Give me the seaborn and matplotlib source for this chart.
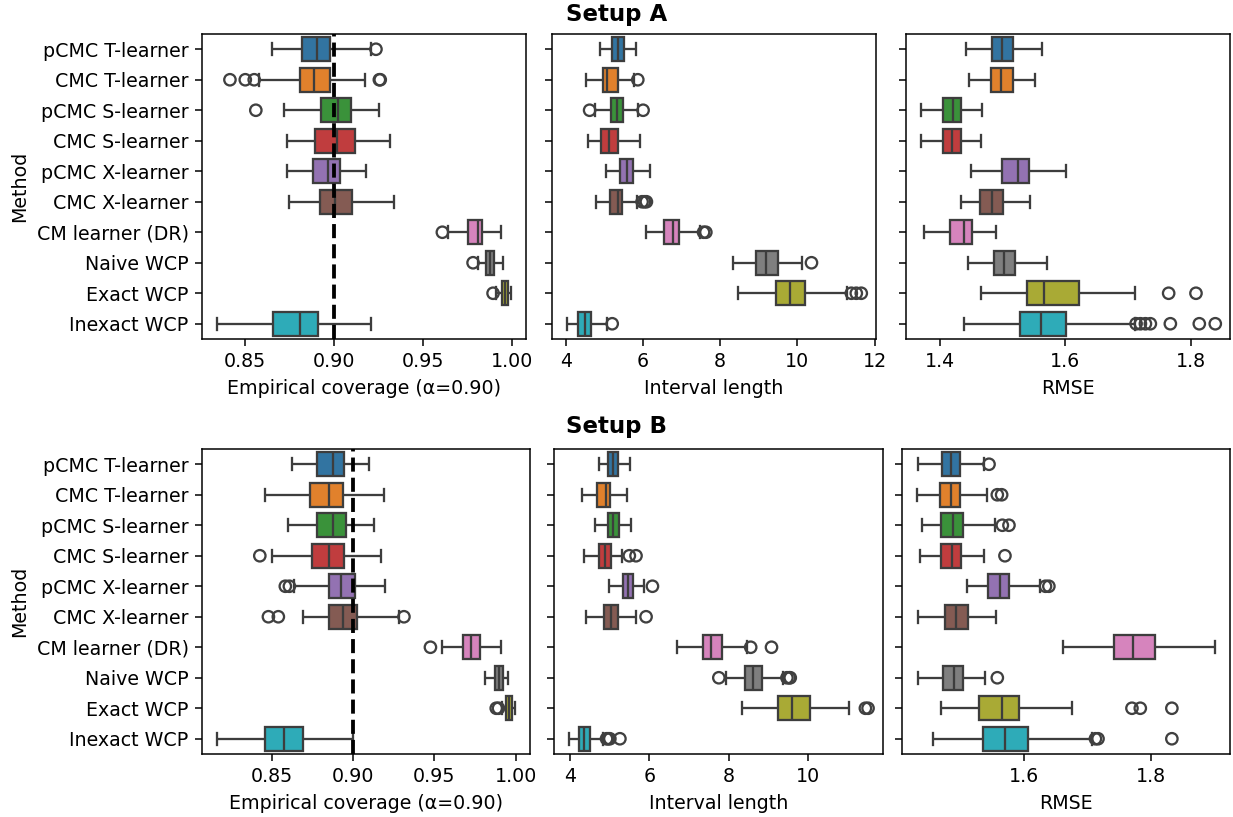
import pandas as pd
import matplotlib.pyplot as plt
import seaborn as sns
import numpy as np

methods = ["pCMC T-learner", "CMC T-learner", "pCMC S-learner", "CMC S-learner",
           "pCMC X-learner", "CMC X-learner", "CM learner (DR)", "Naive WCP",
           "Exact WCP", "Inexact WCP"]

# five-number summaries (whisker low, q1, median, q3, whisker high)
a_cov = [(0.8651, 0.8822, 0.8903, 0.8978, 0.9208),
         (0.8580, 0.8810, 0.8889, 0.8976, 0.9177),
         (0.8721, 0.8926, 0.9026, 0.9098, 0.9251),
         (0.8740, 0.8894, 0.9019, 0.9117, 0.9316),
         (0.8736, 0.8885, 0.8970, 0.9037, 0.9180),
         (0.8749, 0.8922, 0.9009, 0.9104, 0.9338),
         (0.9641, 0.9753, 0.9808, 0.9832, 0.9938),
         (0.9808, 0.9855, 0.9873, 0.9896, 0.9948),
         (0.9910, 0.9942, 0.9959, 0.9975, 0.9994),
         (0.8344, 0.8662, 0.8809, 0.8911, 0.9208)]
a_cov_out = [[0.9236], [0.8418, 0.8504, 0.8554, 0.9255, 0.9260], [0.8563], [], [], [],
             [0.9608], [0.9780], [0.9892], []]

a_len = [(4.877, 5.204, 5.351, 5.505, 5.832),
         (4.516, 4.972, 5.075, 5.351, 5.763),
         (4.757, 5.161, 5.333, 5.480, 5.867),
         (4.585, 4.912, 5.118, 5.351, 5.935),
         (5.049, 5.402, 5.591, 5.738, 6.194),
         (4.783, 5.153, 5.351, 5.454, 5.849),
         (6.073, 6.538, 6.770, 6.925, 7.467),
         (8.344, 8.920, 9.178, 9.505, 10.108),
         (8.473, 9.437, 9.806, 10.211, 11.286),
         (4.026, 4.318, 4.490, 4.662, 5.075)]
a_len_out = [[], [5.867], [4.619, 6.004], [], [], [5.978, 6.039, 6.090],
             [7.570, 7.630], [10.366], [11.398, 11.527, 11.656], [5.204]]

a_rmse = [(1.4414, 1.4829, 1.4993, 1.5163, 1.5631),
          (1.4462, 1.4818, 1.4972, 1.5158, 1.5514),
          (1.3692, 1.4042, 1.4207, 1.4340, 1.4664),
          (1.3703, 1.4053, 1.4197, 1.4335, 1.4659),
          (1.4494, 1.4993, 1.5243, 1.5418, 1.6003),
          (1.4329, 1.4637, 1.4829, 1.4999, 1.5440),
          (1.3740, 1.4165, 1.4377, 1.4510, 1.4898),
          (1.4452, 1.4855, 1.5020, 1.5201, 1.5700),
          (1.4653, 1.5381, 1.5663, 1.6226, 1.7108),
          (1.4377, 1.5270, 1.5615, 1.6008, 1.7108)]
a_rmse_out = [[], [], [], [], [], [], [], [],
              [1.7649, 1.8085],
              [1.7129, 1.7198, 1.7278, 1.7357, 1.7676, 1.8138, 1.8393]]

b_cov = [(0.8624, 0.8779, 0.8877, 0.8945, 0.9098),
         (0.8458, 0.8734, 0.8851, 0.8941, 0.9190),
         (0.8601, 0.8775, 0.8875, 0.8959, 0.9129),
         (0.8501, 0.8749, 0.8849, 0.8947, 0.9170),
         (0.8638, 0.8853, 0.8924, 0.9010, 0.9196),
         (0.8693, 0.8851, 0.8939, 0.9022, 0.9282),
         (0.9548, 0.9676, 0.9726, 0.9779, 0.9912),
         (0.9813, 0.9875, 0.9895, 0.9920, 0.9956),
         (0.9916, 0.9942, 0.9961, 0.9975, 0.9997),
         (0.8162, 0.8456, 0.8577, 0.8693, 0.9000)]
b_cov_out = [[], [], [], [0.8426], [0.8583, 0.8608], [0.8479, 0.8540, 0.9313],
             [0.9476], [], [0.9881, 0.9895], []]

b_len = [(4.720, 4.958, 5.068, 5.195, 5.508),
         (4.297, 4.686, 4.898, 5.008, 5.432),
         (4.619, 4.958, 5.085, 5.237, 5.525),
         (4.339, 4.729, 4.873, 5.025, 5.314),
         (4.975, 5.322, 5.449, 5.593, 5.873),
         (4.407, 4.864, 5.025, 5.203, 5.653),
         (6.695, 7.356, 7.568, 7.831, 8.458),
         (7.941, 8.424, 8.627, 8.847, 9.364),
         (8.347, 9.237, 9.593, 10.068, 11.034),
         (3.966, 4.212, 4.347, 4.492, 4.814)]
b_len_out = [[], [], [], [5.492, 5.661], [6.076], [5.915], [8.559, 9.085],
             [7.754, 9.475, 9.534, 9.559], [11.458, 11.525],
             [4.915, 4.958, 5.000, 5.254]]

b_rmse = [(1.4339, 1.4710, 1.4856, 1.4997, 1.5373),
          (1.4319, 1.4679, 1.4851, 1.4992, 1.5426),
          (1.4392, 1.4700, 1.4888, 1.5050, 1.5540),
          (1.4371, 1.4705, 1.4877, 1.5018, 1.5373),
          (1.5112, 1.5436, 1.5619, 1.5765, 1.6251),
          (1.4339, 1.4762, 1.4930, 1.5117, 1.5556),
          (1.6616, 1.7410, 1.7713, 1.8063, 1.9003),
          (1.4339, 1.4731, 1.4903, 1.5050, 1.5384),
          (1.4700, 1.5295, 1.5661, 1.5922, 1.6757),
          (1.4564, 1.5363, 1.5697, 1.6068, 1.7070)]
b_rmse_out = [[1.5452], [1.5582, 1.5650], [1.5661, 1.5765], [1.5702], [1.6339, 1.6392],
              [], [], [1.5582], [1.7697, 1.7828, 1.8324], [1.7123, 1.7164, 1.8324]]

xlabels = ["Empirical coverage (α=0.90)", "Interval length", "RMSE"]
W, H = 1233, 817
fig = plt.figure(figsize=(W / 137, H / 137), dpi=137)


def rect(x0, x1, ytop, ybot):
    return [x0 / W, 1 - ybot / H, (x1 - x0) / W, (ybot - ytop) / H]


def to_long(stats):
    rows = []
    for m, vals in zip(methods, stats):
        for v in vals:
            rows.append((m, v))
    return pd.DataFrame(rows, columns=["Method", "value"])


rows = [
    ([a_cov, a_len, a_rmse], [a_cov_out, a_len_out, a_rmse_out],
     [(202, 526), (552, 876), (906, 1230)], (34, 339)),
    ([b_cov, b_len, b_rmse], [b_cov_out, b_len_out, b_rmse_out],
     [(202, 530), (554, 883), (902, 1230)], (449, 754)),
]

for stats_row, out_row, xs, (yt, yb) in rows:
    for j in range(3):
        ax = fig.add_axes(rect(xs[j][0], xs[j][1], yt, yb))
        df = to_long(stats_row[j])
        sns.boxplot(data=df, x="value", y="Method", hue="Method", order=methods,
                    hue_order=methods, palette="tab10", whis=(0, 100),
                    linewidth=1.2, legend=False, ax=ax)
        odf = to_long(out_row[j])
        if len(odf):
            sns.stripplot(data=odf, x="value", y="Method", order=methods,
                          jitter=False, size=6, color="#404040",
                          facecolors="none", edgecolor="#404040",
                          linewidth=1.2, ax=ax)
        if j == 0:
            ax.axvline(0.9, color="black", linestyle="--", linewidth=2, zorder=5)
            ax.set_ylabel("Method")
        else:
            ax.set_yticklabels([])
            ax.set_ylabel("")
        ax.set_xlabel(xlabels[j])

fig.text(0.5, 1 - 14 / H, "Setup A", ha="center", va="center",
         fontsize=12, fontweight="bold")
fig.text(0.5, 1 - 427 / H, "Setup B", ha="center", va="center",
         fontsize=12, fontweight="bold")

fig.savefig("out.png", dpi=137)
